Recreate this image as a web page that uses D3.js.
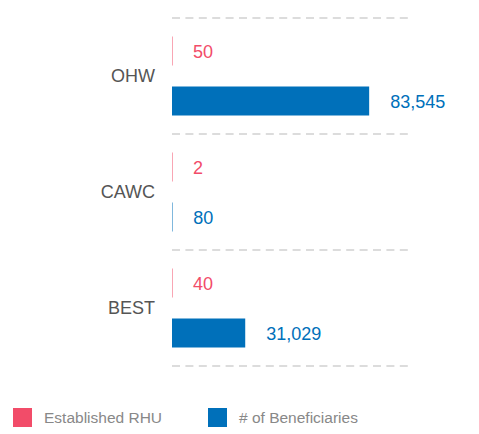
<!DOCTYPE html>
<html>
<head>
<meta charset="utf-8">
<script src="https://cdn.jsdelivr.net/npm/d3@7"></script>
<style>
  body { margin: 0; background: #fff; }
  svg { display: block; font-family: "Liberation Sans", Arial, sans-serif; }
</style>
</head>
<body>
<div id="chart-area"></div>
<script>
    // data
    const categories = ["OHW", "CAWC", "BEST"]
    const seriesNames = ["Established RHU", "# of Beneficiaries"]
    const establishedRHU = [50, 2, 40]
    const beneficiaries = [83545, 80, 31029]
    const colors = ["#F24C69", "#0070BA"]

    const dataset = categories.map((c, i) => ({
        category: c,
        values: [establishedRHU[i], beneficiaries[i]]
    }))

    const svgWidth = 479
    const svgHeight = 434
    const margin = { left: 172, right: 71, top: 18, bottom: 68 }
    const chartWidth = svgWidth - margin.left - margin.right
    const chartHeight = svgHeight - margin.top - margin.bottom

    const svg = d3.select("#chart-area")
        .append("svg")
        .attr("width", svgWidth)
        .attr("height", svgHeight)

    const chart = svg.append("g")
        .attr("transform", `translate(${margin.left},${margin.top})`)

    const xScale = d3.scaleLinear()
        .domain([0, 100000])
        .range([0, chartWidth])

    const yScale = d3.scaleBand()
        .domain(categories)
        .range([0, chartHeight])

    const innerScale = d3.scaleBand()
        .domain(d3.range(seriesNames.length))
        .range([0, yScale.bandwidth()])
        .paddingInner(0.42)
        .paddingOuter(0.37)

    // dashed separators
    chart.append("g")
        .selectAll("line")
        .data(categories.concat(["end"]))
        .join("line")
        .attr("x1", 0)
        .attr("x2", chartWidth)
        .attr("y1", (d, i) => i * yScale.step())
        .attr("y2", (d, i) => i * yScale.step())
        .attr("stroke", "#dcdcdc")
        .attr("stroke-width", 2)
        .attr("stroke-dasharray", "8,5.4")

    const groups = chart.selectAll(".group")
        .data(dataset)
        .join("g")
        .attr("class", "group")
        .attr("transform", d => `translate(0,${yScale(d.category)})`)

    groups.selectAll("rect")
        .data(d => d.values)
        .join("rect")
        .attr("x", xScale(0))
        .attr("y", (d, i) => innerScale(i))
        .attr("width", d => Math.max(xScale(d) - xScale(0), 0.5))
        .attr("height", innerScale.bandwidth())
        .attr("fill", (d, i) => colors[i])

    groups.selectAll(".value")
        .data(d => d.values)
        .join("text")
        .attr("class", "value")
        .attr("x", d => xScale(d) + 21)
        .attr("y", (d, i) => innerScale(i) + innerScale.bandwidth() / 2 + 1)
        .attr("dy", "0.35em")
        .attr("font-size", 18)
        .attr("fill", (d, i) => colors[i])
        .text(d => d3.format(",")(d))

    // category labels
    groups.append("text")
        .attr("x", -17)
        .attr("y", yScale.bandwidth() / 2)
        .attr("dy", "0.35em")
        .attr("text-anchor", "end")
        .attr("font-size", 18)
        .attr("fill", "#555")
        .text(d => d.category)

    // legend
    const legend = svg.append("g")
        .attr("transform", "translate(13,408)")

    const legendItem = legend.selectAll("g")
        .data(seriesNames)
        .join("g")
        .attr("transform", (d, i) => `translate(${i * 195},0)`)

    legendItem.append("rect")
        .attr("width", 19)
        .attr("height", 19)
        .attr("fill", (d, i) => colors[i])

    legendItem.append("text")
        .attr("x", 31)
        .attr("y", 9.5)
        .attr("dy", "0.35em")
        .attr("font-size", 15.5)
        .attr("fill", "#888")
        .text(d => d)
</script>
</body>
</html>
